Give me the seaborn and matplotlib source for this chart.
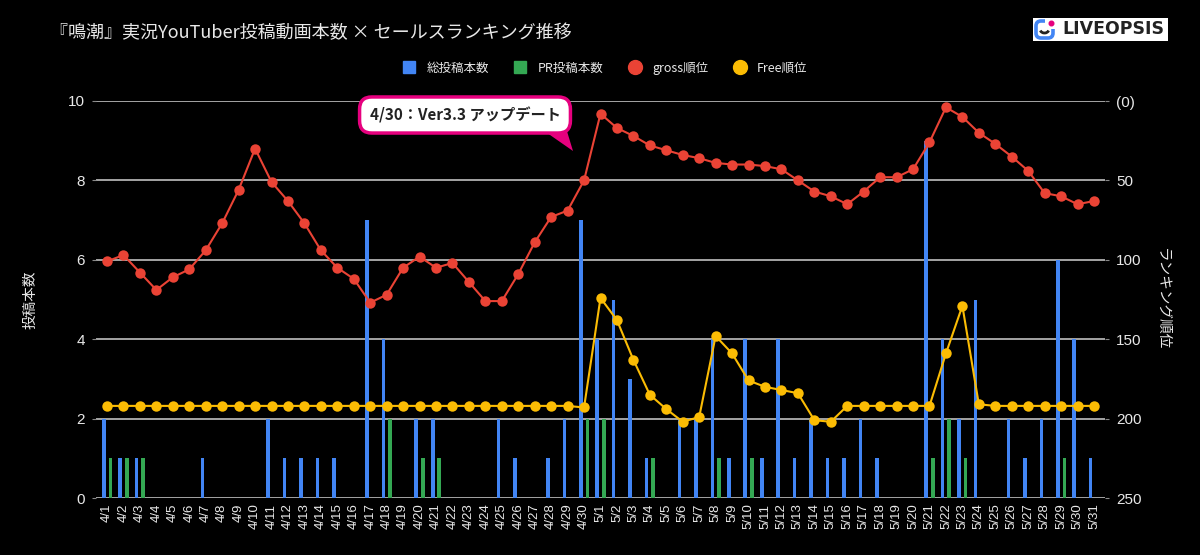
import numpy as np
import pandas as pd
import matplotlib
matplotlib.use("Agg")
import matplotlib.pyplot as plt
import seaborn as sns
from matplotlib.lines import Line2D
from matplotlib.patches import Polygon, FancyBboxPatch, Arc, Circle

# dates 4/1 .. 5/31
dates = [f"4/{d}" for d in range(1, 31)] + [f"5/{d}" for d in range(1, 32)]

total_posts = [2, 1, 1, 0, 0, 0, 1, 0, 0, 0,
               2, 1, 1, 1, 1, 0, 7, 4, 0, 2,
               2, 0, 0, 0, 2, 1, 0, 1, 2, 7,
               4, 5, 3, 1, 0, 2, 2, 4, 1, 4,
               1, 4, 1, 2, 1, 1, 2, 1, 0, 0,
               9, 4, 2, 5, 0, 2, 1, 2, 6, 4, 1]
pr_posts = [1, 1, 1, 0, 0, 0, 0, 0, 0, 0,
            0, 0, 0, 0, 0, 0, 0, 2, 0, 1,
            1, 0, 0, 0, 0, 0, 0, 0, 0, 2,
            2, 0, 0, 1, 0, 0, 0, 1, 0, 1,
            0, 0, 0, 0, 0, 0, 0, 0, 0, 0,
            1, 2, 1, 0, 0, 0, 0, 0, 1, 0, 0]
gross_rank = [101, 97, 108, 119, 111, 106, 94, 77, 56, 30,
              51, 63, 77, 94, 105, 112, 127, 122, 105, 98,
              105, 102, 114, 126, 126, 109, 89, 73, 69, 50,
              8, 17, 22, 28, 31, 34, 36, 39, 40, 40,
              41, 43, 50, 57, 60, 65, 57, 48, 48, 43,
              26, 4, 10, 20, 27, 35, 44, 58, 60, 65, 63]
free_rank = [192] * 29 + [193,
             124, 138, 163, 185, 194, 202, 199, 148, 159, 176,
             180, 182, 184, 201, 202, 192, 192, 192, 192, 192,
             192, 159, 129, 191, 192, 192, 192, 192, 192, 192, 192]

left_ticks = [0, 2, 4, 6, 8, 10]
right_ticks = [0, 50, 100, 150, 200, 250]
right_labels = ["(0)", "50", "100", "150", "200", "250"]

BLUE, GREEN, RED, YELLOW = "#4285f4", "#34a853", "#ea4335", "#fbbc04"
PINK = "#e6007e"
FG = "#e8e8e8"
GRID = "#d0d0d0"

sns.set_style("dark")
plt.rcParams["font.family"] = ["Noto Sans CJK JP", "DejaVu Sans"]

W, H = 1200, 555
fig = plt.figure(figsize=(12, 5.55), dpi=100, facecolor="black")
ax = fig.add_axes([96 / W, 1 - 498 / H, (1105 - 96) / W, (498 - 101) / H])
ax.set_facecolor("black")

bars = pd.DataFrame({
    "date": dates * 2,
    "count": total_posts + pr_posts,
    "kind": ["総投稿本数"] * len(dates) + ["PR投稿本数"] * len(dates),
})
sns.barplot(data=bars, x="date", y="count", hue="kind",
            palette=[BLUE, GREEN], width=0.8, gap=0.45, saturation=1,
            dodge=True, legend=False, ax=ax, zorder=2,
            edgecolor="none", linewidth=0)

ax.set_ylim(0, 10)
ax.set_xlim(-0.67, len(dates) - 0.33)
ax.set_yticks(left_ticks)
ax.grid(axis="y", color=GRID, lw=1.1, zorder=0)
ax.grid(axis="x", visible=False)
ax.set_axisbelow(True)
for s in ax.spines.values():
    s.set_visible(False)
ax.tick_params(axis="y", colors=FG, labelsize=11, length=3, color="#888888", pad=5)
ax.tick_params(axis="x", colors=FG, labelsize=9.5, rotation=90, length=0, pad=4)
for t in ax.get_xticklabels():
    t.set_family("Liberation Sans")
for t in ax.get_yticklabels():
    t.set_family("Liberation Sans")
ax.set_xlabel("")
ax.set_ylabel("投稿本数", color=FG, fontsize=10.5, labelpad=22)

ax2 = ax.twinx()
x = np.arange(len(dates))
sns.lineplot(x=x, y=gross_rank, ax=ax2, color=RED, lw=1.5, marker="o",
             markersize=7.5, markeredgewidth=0, zorder=4)
sns.lineplot(x=x, y=free_rank, ax=ax2, color=YELLOW, lw=1.5, marker="o",
             markersize=7.5, markeredgewidth=0, zorder=4)
ax2.set_ylim(250, 0)
ax2.set_yticks(right_ticks)
ax2.set_yticklabels(right_labels)
ax2.grid(False)
for s in ax2.spines.values():
    s.set_visible(False)
ax2.tick_params(axis="y", colors=FG, labelsize=11, length=3, color="#888888", pad=5)
for t in ax2.get_yticklabels():
    t.set_family("Liberation Sans")
ax2.set_ylabel("ランキング順位", color=FG, fontsize=10.5, rotation=270, labelpad=20)

# title
fig.text(50 / W, 1 - 33 / H, "『鳴潮』実況YouTuber投稿動画本数 × セールスランキング推移",
         color=FG, fontsize=13, va="center", ha="left")

# legend
handles = [
    Line2D([], [], marker="s", ls="", color=BLUE, markersize=8),
    Line2D([], [], marker="s", ls="", color=GREEN, markersize=8),
    Line2D([], [], marker="o", ls="", color=RED, markersize=10),
    Line2D([], [], marker="o", ls="", color=YELLOW, markersize=10),
]
leg = fig.legend(handles, ["総投稿本数", "PR投稿本数", "gross順位", "Free順位"],
                 loc="center", bbox_to_anchor=(602 / W, 1 - 68 / H), ncol=4,
                 frameon=False, fontsize=9, handletextpad=0.4, columnspacing=1.5)
for t in leg.get_texts():
    t.set_color(FG)


def px(xp, yp):
    return (xp / W, 1 - yp / H)


# callout
tail = Polygon([px(540, 128), px(566, 128), px(573, 151)], closed=True,
               transform=fig.transFigure, facecolor=PINK, edgecolor="none", zorder=5)
fig.patches.append(tail)
fig.text(465 / W, 1 - 115 / H, "4/30：Ver3.3 アップデート", color="#222222",
         fontsize=11, fontweight="bold", ha="center", va="center", zorder=6,
         bbox=dict(boxstyle="round,pad=0.65,rounding_size=0.8", facecolor="white",
                   edgecolor=PINK, lw=2.5))

# logo
lax = fig.add_axes([1033 / W, 1 - 41 / H, 135 / W, 23 / H])
lax.set_xlim(0, 135)
lax.set_ylim(0, 23)
lax.set_facecolor("white")
lax.axis("off")
lax.add_patch(FancyBboxPatch((0, 0), 135, 23, boxstyle="square,pad=0",
                             facecolor="white", edgecolor="none"))
lax.add_patch(FancyBboxPatch((3, 3), 17, 17, boxstyle="round,pad=0,rounding_size=5",
                             facecolor="none", edgecolor=BLUE, lw=2.6))
lax.add_patch(FancyBboxPatch((12, 12), 10, 10, boxstyle="square,pad=0",
                             facecolor="white", edgecolor="none"))
lax.add_patch(Arc((11.5, 12), 9, 8, theta1=200, theta2=340, color="#222222", lw=2))
lax.add_patch(Circle((18.5, 17.5), 2.3, color=PINK))
lax.text(29, 11.5, "LIVEOPSIS", color="#222222", fontsize=12.5, fontweight="bold",
         ha="left", va="center", family="DejaVu Sans")

fig.savefig("out.png", dpi=100, facecolor="black")
